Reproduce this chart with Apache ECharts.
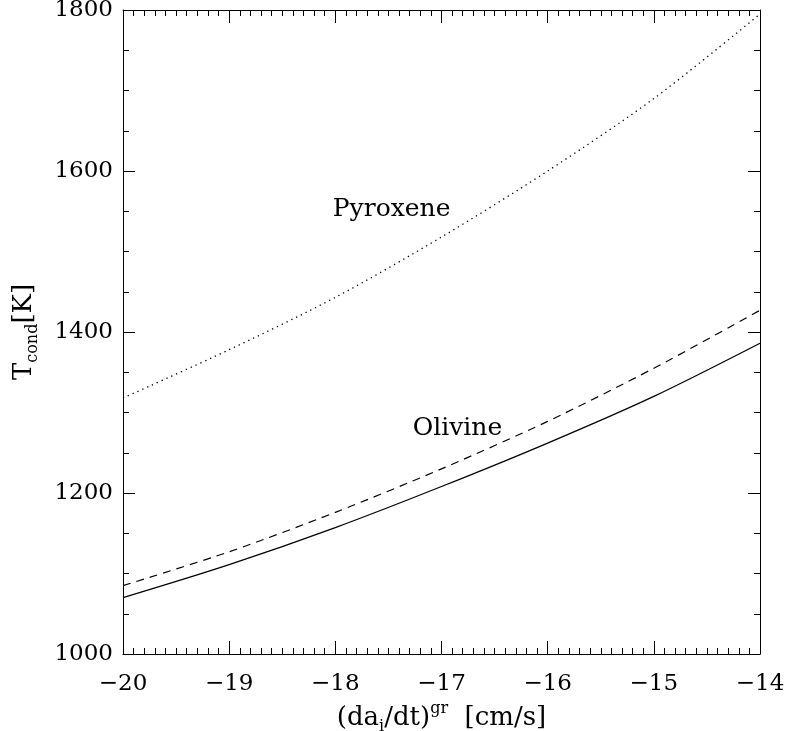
<!DOCTYPE html>
<html>
<head>
<meta charset="utf-8">
<script src="https://cdn.jsdelivr.net/npm/echarts@6/dist/echarts.min.js"></script>
<style>html,body{margin:0;padding:0;background:#fff}#c{width:787px;height:731px}</style>
</head>
<body>
<div id="c"></div>
<script>
// Data
const xValues = [-20, -19, -18, -17, -16, -15, -14];
const olivineSolid = [1070, 1111, 1157, 1208, 1262, 1320, 1386];
const olivineDashed = [1085, 1127, 1176, 1230, 1289, 1355, 1427];
const pyroxeneDotted = [1318, 1378, 1443, 1518, 1600, 1690, 1795];
const xTicks = [-20, -19, -18, -17, -16, -15, -14];
const yTicks = [1000, 1200, 1400, 1600, 1800];
const annotations = [
  { x: -17.47, y: 1552, text: 'Pyroxene' },
  { x: -16.85, y: 1280, text: 'Olivine' }
];

const FONT = 'DejaVu Serif';
const pairs = ys => xValues.map((x, i) => [x, ys[i]]);
const fmtX = v => { const t = xTicks.find(k => Math.abs(k - v) < 1e-9); return t === undefined ? '' : (t < 0 ? '\u2212' + Math.abs(t) : String(t)); };
const fmtY = v => { const t = yTicks.find(k => Math.abs(k - v) < 1e-9); return t === undefined ? '' : String(t); };

const baseAxis = {
  axisLine: { show: true, lineStyle: { color: '#000', width: 1 } },
  splitLine: { show: false },
  axisTick: { show: true, inside: true, lineStyle: { color: '#000', width: 1 } },
  minorTick: { show: true, lineStyle: { color: '#000', width: 1 } }
};

const rich = {
  n: { fontFamily: FONT, fontSize: 26, color: '#000', lineHeight: 34 },
  sub: { fontFamily: FONT, fontSize: 16, color: '#000', lineHeight: 16, verticalAlign: 'bottom' },
  sup: { fontFamily: FONT, fontSize: 16, color: '#000', lineHeight: 16, verticalAlign: 'top' }
};

const chart = echarts.init(document.getElementById('c'), null, { renderer: 'canvas' });
chart.setOption({
  animation: false,
  backgroundColor: '#fff',
  grid: { left: 123, right: 27, top: 10, bottom: 77, containLabel: false, outerBoundsMode: 'none' },
  xAxis: [
    Object.assign({}, baseAxis, {
      type: 'value', min: -20, max: -14, interval: 1, position: 'bottom',
      axisTick: Object.assign({}, baseAxis.axisTick, { length: 13 }),
      minorTick: Object.assign({}, baseAxis.minorTick, { splitNumber: 10, length: 6 }),
      axisLabel: { show: true, margin: 19, fontFamily: FONT, fontSize: 23, color: '#000', formatter: fmtX },
      name: '{n|(da}{sub|i}{n|/dt)}{sup|gr}{n|  [cm/s]}',
      nameLocation: 'middle', nameGap: 38,
      nameTextStyle: { rich: rich }
    }),
    Object.assign({}, baseAxis, {
      type: 'value', min: -20, max: -14, interval: 1, position: 'top',
      axisTick: Object.assign({}, baseAxis.axisTick, { length: 13 }),
      minorTick: Object.assign({}, baseAxis.minorTick, { splitNumber: 10, length: 6 }),
      axisLabel: { show: false }
    })
  ],
  yAxis: [
    Object.assign({}, baseAxis, {
      type: 'value', min: 1000, max: 1800, interval: 200, position: 'left',
      axisTick: Object.assign({}, baseAxis.axisTick, { length: 12 }),
      minorTick: Object.assign({}, baseAxis.minorTick, { splitNumber: 4, length: 6 }),
      axisLabel: { show: true, margin: 10, fontFamily: FONT, fontSize: 23, color: '#000', formatter: fmtY },
      name: '{n|T}{sub|cond}{n|[K]}',
      nameLocation: 'middle', nameGap: 82, nameRotate: 90,
      nameTextStyle: { rich: rich }
    }),
    Object.assign({}, baseAxis, {
      type: 'value', min: 1000, max: 1800, interval: 200, position: 'right',
      axisTick: Object.assign({}, baseAxis.axisTick, { length: 12 }),
      minorTick: Object.assign({}, baseAxis.minorTick, { splitNumber: 4, length: 6 }),
      axisLabel: { show: false }
    })
  ],
  series: [
    { type: 'line', data: pairs(olivineSolid), smooth: 0.3, symbol: 'none',
      lineStyle: { color: '#000', width: 1.2, type: 'solid' } },
    { type: 'line', data: pairs(olivineDashed), smooth: 0.3, symbol: 'none',
      lineStyle: { color: '#000', width: 1.2, type: [8, 6] } },
    { type: 'line', data: pairs(pyroxeneDotted), smooth: 0.3, symbol: 'none',
      lineStyle: { color: '#000', width: 1.3, type: [1.3, 4] } },
    { type: 'scatter', symbolSize: 0, silent: true, itemStyle: { opacity: 1, color: '#000' },
      data: annotations.map(a => ({ value: [a.x, a.y], name: a.text })),
      label: { show: true, position: 'inside', formatter: p => p.name,
        fontFamily: FONT, fontSize: 25, color: '#000', opacity: 1 } }
  ]
});
</script>
</body>
</html>
